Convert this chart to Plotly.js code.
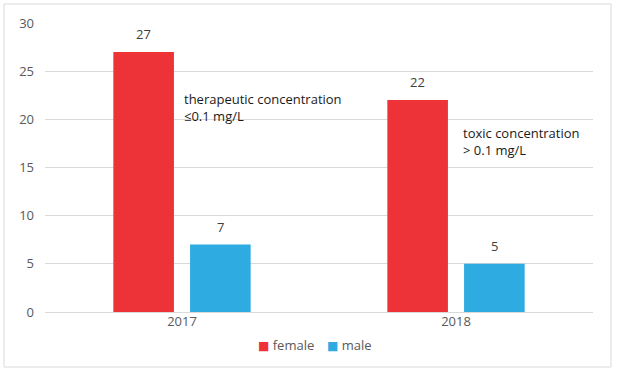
<!DOCTYPE html>
<html>
<head>
<meta charset="utf-8">
<script src="https://cdn.plot.ly/plotly-3.0.1.min.js"></script>
<style>
html,body{margin:0;padding:0;background:#fff;}
#chart{width:617px;height:373px;}
</style>
</head>
<body>
<div id="chart"></div>
<script>
const years = ['2017', '2018'];
const female = [27, 22];
const male = [7, 5];
const seriesNames = ['female', 'male'];
const noteTexts = ['therapeutic concentration<br>≤0.1 mg/L', 'toxic concentration<br>> 0.1 mg/L'];
const yTicks = [0, 5, 10, 15, 20, 25, 30];

const red = '#EE3338';
const blue = '#2EACE2';
const colors = [red, blue];
const FONT = 'Open Sans, sans-serif';
const bargap = 0.44;
const bargroupgap = 0.21;

const traces = [
  {type: 'bar', name: seriesNames[0], x: years, y: female, marker: {color: red}, hoverinfo: 'none'},
  {type: 'bar', name: seriesNames[1], x: years, y: male, marker: {color: blue}, hoverinfo: 'none'}
];

// value labels above bars, positioned from the bar geometry
const slot = (1 - bargap) / 2;
const annotations = [];
[female, male].forEach((vals, si) => {
  const off = (si - 0.5) * slot;
  vals.forEach((v, i) => {
    annotations.push({
      xref: 'x', yref: 'y', x: i + off, y: v, text: String(v),
      showarrow: false, yanchor: 'bottom', yshift: 7,
      font: {family: FONT, size: 13, color: '#404040'}
    });
  });
});
// notes
const noteY = [21.2, 17.75];
noteTexts.forEach((t, i) => {
  annotations.push({
    xref: 'x', yref: 'y', x: i + (i === 0 ? 0 : 0.018), y: noteY[i], text: t,
    showarrow: false, xanchor: 'left', yanchor: 'middle', align: 'left',
    font: {family: FONT, size: 13, color: '#1a1a1a'}
  });
});
// legend (compact, like the reference)
const legendX = [0.385, 0.511];
seriesNames.forEach((n, i) => {
  annotations.push({
    xref: 'paper', yref: 'paper', x: legendX[i], y: -0.114, xanchor: 'left', yanchor: 'middle',
    showarrow: false,
    text: '<span style="color:' + colors[i] + ';font-family:DejaVu Sans;font-size:12px">■</span> ' + n,
    font: {family: FONT, size: 13, color: '#595959'}
  });
});

const layout = {
  width: 617, height: 373,
  margin: {l: 45, r: 24, t: 23, b: 61},
  paper_bgcolor: '#fff', plot_bgcolor: '#fff',
  barmode: 'group', bargap: bargap, bargroupgap: bargroupgap,
  showlegend: false,
  xaxis: {type: 'category', showgrid: false, showline: false, zeroline: false, ticks: '',
          tickfont: {family: FONT, size: 13, color: '#595959'}, fixedrange: true},
  yaxis: {range: [0, 30], tickvals: yTicks, ticktext: yTicks.map(String), showgrid: true,
          gridcolor: '#d9d9d9', gridwidth: 1, zeroline: true, zerolinecolor: '#d9d9d9',
          zerolinewidth: 1, showline: false, ticks: '', ticklabelstandoff: 10,
          tickfont: {family: FONT, size: 13, color: '#595959'}, fixedrange: true},
  shapes: [{type: 'rect', xref: 'paper', yref: 'paper',
            x0: (4 - 45) / 548, x1: (611 - 45) / 548,
            y0: (312 - 367) / 289, y1: (312 - 4) / 289,
            line: {color: '#d9d9d9', width: 1}, fillcolor: 'rgba(0,0,0,0)', layer: 'below'}],
  annotations: annotations
};

Plotly.newPlot('chart', traces, layout, {displayModeBar: false, staticPlot: true});
</script>
</body>
</html>
